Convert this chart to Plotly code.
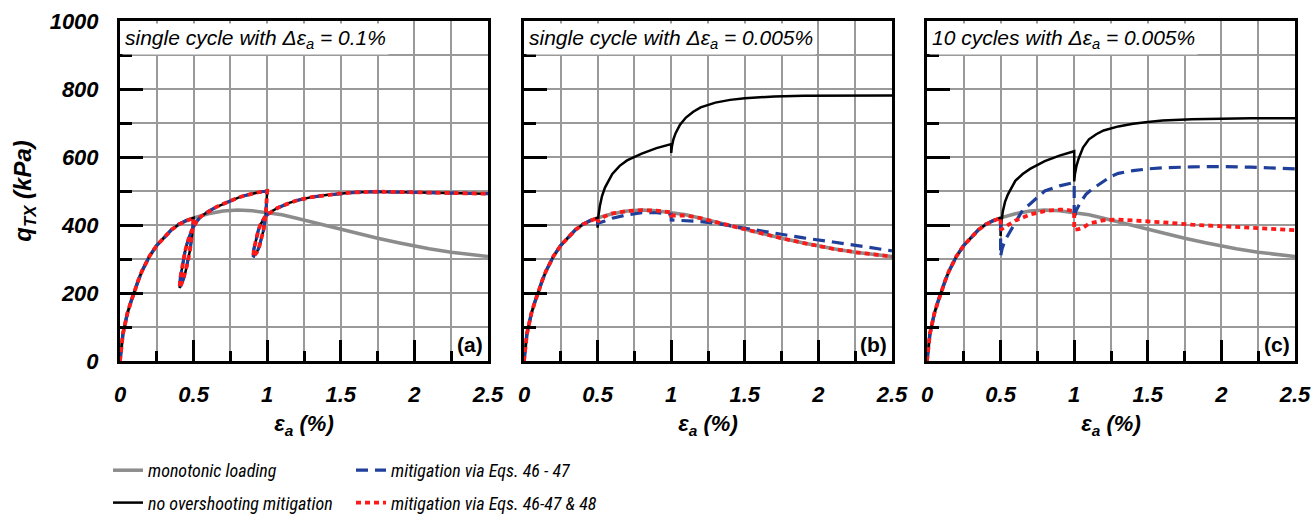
import plotly.graph_objects as go

# ---------------- data ----------------
# monotonic loading (grey) - same in all panels
eps_mono = [0, 0.01, 0.02, 0.035, 0.05, 0.075, 0.1, 0.125, 0.15, 0.2, 0.25, 0.3, 0.35, 0.4, 0.45, 0.5,
            0.6, 0.7, 0.8, 0.9, 1.0, 1.1, 1.2, 1.3, 1.4, 1.5, 1.6, 1.75, 1.9, 2.0, 2.1, 2.25, 2.4, 2.5]
q_mono = [0, 48, 80, 110, 140, 175, 208, 238, 265, 308, 340, 364, 386, 402, 413, 421,
          433, 441, 444, 442, 437, 430, 420, 409, 398, 388, 377, 361, 347, 338, 330, 320, 311, 307]

# panel (a): all three models overlap
eps_a_cyc = [0, 0.01, 0.02, 0.035, 0.05, 0.075, 0.1, 0.125, 0.15, 0.2, 0.25, 0.3, 0.35, 0.4, 0.45, 0.5,
             0.497, 0.49, 0.475, 0.46, 0.445, 0.43, 0.415, 0.405,
             0.41, 0.425, 0.44, 0.455, 0.47, 0.485, 0.5, 0.52, 0.55, 0.6, 0.65, 0.7, 0.75, 0.8, 0.85, 0.9, 0.95, 1.0,
             0.997, 0.99, 0.975, 0.96, 0.945, 0.93, 0.915, 0.905,
             0.91, 0.925, 0.94, 0.955, 0.97, 0.985, 1.0, 1.03, 1.07, 1.1, 1.15, 1.2, 1.3, 1.4, 1.5, 1.6, 1.75,
             1.9, 2.0, 2.25, 2.5]
q_a_cyc = [0, 48, 80, 110, 140, 175, 208, 238, 265, 308, 340, 364, 386, 402, 413, 421,
           400, 370, 325, 290, 262, 240, 224, 215,
           245, 285, 318, 345, 365, 382, 395, 410, 425, 440, 452, 462, 472, 480, 487, 493, 497, 500,
           470, 430, 385, 355, 335, 320, 310, 306,
           330, 360, 385, 402, 415, 424, 430, 440, 450, 456, 465, 472, 482, 488, 493, 496, 498,
           497, 496, 494, 492]

eps_pre = [0, 0.01, 0.02, 0.035, 0.05, 0.075, 0.1, 0.125, 0.15, 0.2, 0.25, 0.3, 0.35, 0.4, 0.45, 0.5]
q_pre = [0, 48, 80, 110, 140, 175, 208, 238, 265, 308, 340, 364, 386, 402, 413, 421]

# panel (b)
eps_b_black = eps_pre + [0.5, 0.505, 0.515, 0.53, 0.55, 0.6, 0.65, 0.7, 0.8, 0.9, 1.0, 1.0, 1.005, 1.015,
                         1.03, 1.06, 1.1, 1.15, 1.2, 1.3, 1.4, 1.5, 1.7, 1.9, 2.1, 2.3, 2.5]
q_b_black = q_pre + [392, 425, 455, 485, 510, 550, 574, 590, 610, 626, 638, 612, 632, 652,
                     670, 695, 716, 733, 746, 760, 768, 773, 778, 780, 781, 781, 781]
eps_b_blue = eps_pre + [0.5, 0.55, 0.6, 0.7, 0.8, 0.9, 1.0, 1.0, 1.05, 1.1, 1.2, 1.3, 1.5, 1.7, 1.9,
                        2.1, 2.3, 2.5]
q_b_blue = q_pre + [405, 412, 420, 430, 436, 436, 432, 415, 414, 413, 410, 405, 390, 376, 362,
                    350, 337, 324]
eps_b_red = eps_pre + [0.5, 0.55, 0.6, 0.7, 0.8, 0.9, 1.0, 1.0, 1.1, 1.2, 1.3, 1.4, 1.5, 1.6, 1.75,
                       1.9, 2.0, 2.1, 2.25, 2.4, 2.5]
q_b_red = q_pre + [410, 426, 434, 441, 444, 442, 437, 428, 428, 420, 409, 398, 388, 377, 361,
                   347, 338, 330, 320, 311, 307]

# panel (c)
eps_c_black = eps_pre + [0.5, 0.505, 0.515, 0.53, 0.55, 0.6, 0.65, 0.7, 0.8, 0.9, 1.0, 1.0, 1.005, 1.015,
                         1.03, 1.06, 1.1, 1.15, 1.2, 1.3, 1.4, 1.5, 1.6, 1.8, 2.0, 2.2, 2.5]
q_c_black = q_pre + [368, 405, 440, 468, 490, 530, 550, 565, 588, 604, 617, 528, 550, 573,
                     595, 628, 652, 667, 678, 690, 698, 703, 707, 711, 713, 714, 714]
eps_c_blue = eps_pre + [0.5, 0.51, 0.53, 0.55, 0.6, 0.65, 0.7, 0.8, 0.9, 1.0, 1.0, 1.01, 1.04, 1.08,
                        1.12, 1.2, 1.25, 1.3, 1.4, 1.5, 1.6, 1.8, 2.0, 2.2, 2.5]
q_c_blue = q_pre + [308, 330, 355, 370, 405, 444, 462, 500, 515, 525, 415, 440, 465, 490,
                    505, 527, 543, 552, 560, 565, 568, 571, 572, 570, 565]
eps_c_red = eps_pre + [0.5, 0.52, 0.55, 0.6, 0.7, 0.8, 0.9, 0.95, 1.0, 1.0, 1.03, 1.06, 1.1, 1.2, 1.3,
                       1.4, 1.6, 1.8, 2.0, 2.2, 2.5]
q_c_red = q_pre + [386, 392, 400, 413, 431, 441, 445, 445, 440, 386, 388, 392, 404, 414, 416,
                   414, 408, 401, 396, 391, 385]

panel_titles = ["single cycle with Δε<sub>a</sub> = 0.1%",
                "single cycle with Δε<sub>a</sub> = 0.005%",
                "10 cycles with Δε<sub>a</sub> = 0.005%"]
panel_tags = ["(a)", "(b)", "(c)"]
x_ticks = [0, 0.5, 1, 1.5, 2, 2.5]
x_ticktext = ["0", "0.5", "1", "1.5", "2", "2.5"]
y_ticks = [0, 200, 400, 600, 800, 1000]

names = ["monotonic loading", "no overshooting mitigation",
         "mitigation via Eqs. 46 - 47", "mitigation via Eqs. 46-47 & 48"]

panels = [
    dict(black=(eps_a_cyc, q_a_cyc), blue=(eps_a_cyc, q_a_cyc), red=(eps_a_cyc, q_a_cyc)),
    dict(black=(eps_b_black, q_b_black), blue=(eps_b_blue, q_b_blue), red=(eps_b_red, q_b_red)),
    dict(black=(eps_c_black, q_c_black), blue=(eps_c_blue, q_c_blue), red=(eps_c_red, q_c_red)),
]

# ---------------- styling ----------------
GREY = "#8c8c8c"
BLUE = "#1f3f9a"
RED = "#ff1a1a"
GRID = "#9a9a9a"
FONT = "Liberation Sans, Arial, sans-serif"
NARROW = "Liberation Sans Narrow, Arial Narrow, Roboto Condensed, DejaVu Sans Condensed, sans-serif"

W, H = 1312, 517
L, R, T, B = 120, 17, 21, 156
pw = W - L - R
doms = [(120, 488), (524, 892), (927, 1295)]
doms = [((a - L) / pw, (b - L) / pw) for a, b in doms]

fig = go.Figure()

for i, p in enumerate(panels):
    xa = "x" if i == 0 else f"x{i+1}"
    ya = "y" if i == 0 else f"y{i+1}"
    first = i == 0
    fig.add_trace(go.Scatter(x=eps_mono, y=q_mono, mode="lines", xaxis=xa, yaxis=ya,
                             line=dict(color=GREY, width=3.5), name=names[0],
                             showlegend=first, legend="legend", legendgroup="g0"))
    fig.add_trace(go.Scatter(x=p["black"][0], y=p["black"][1], mode="lines", xaxis=xa, yaxis=ya,
                             line=dict(color="black", width=2.5), name=names[1],
                             showlegend=first, legend="legend", legendgroup="g1"))
    fig.add_trace(go.Scatter(x=p["blue"][0], y=p["blue"][1], mode="lines", xaxis=xa, yaxis=ya,
                             line=dict(color=BLUE, width=3.2, dash="12px,7px"), name=names[2],
                             showlegend=first, legend="legend2", legendgroup="g2"))
    fig.add_trace(go.Scatter(x=p["red"][0], y=p["red"][1], mode="lines", xaxis=xa, yaxis=ya,
                             line=dict(color=RED, width=3.8, dash="5px,4px"), name=names[3],
                             showlegend=first, legend="legend2", legendgroup="g3"))

tickfont = dict(family=FONT, size=22, weight="bold", style="italic", color="black")
for i in range(3):
    sx = "" if i == 0 else str(i + 1)
    fig.layout["xaxis" + sx] = dict(
        domain=doms[i], range=[0, 2.5], anchor="y" + sx,
        tickvals=x_ticks, ticktext=x_ticktext, ticks="inside", ticklen=21, tickwidth=3,
        tickcolor="black", showgrid=True, gridcolor=GRID, gridwidth=1.5, zeroline=False,
        showline=True, linecolor="black", linewidth=3, mirror=True,
        tickfont=tickfont, ticklabelstandoff=12,
        minor=dict(tickvals=[0.25, 0.75, 1.25, 1.75, 2.25], ticks="inside", ticklen=10,
                   tickwidth=3, tickcolor="black", showgrid=True, gridcolor=GRID, gridwidth=1.5),
        title=dict(text="ε<sub>a</sub> (%)", standoff=10,
                   font=dict(family=FONT, size=22, weight="bold", style="italic", color="black")),
    )
    fig.layout["yaxis" + sx] = dict(
        domain=[0, 1], range=[0, 1000], anchor="x" + sx,
        tickvals=y_ticks, ticks="inside", ticklen=23, tickwidth=3, tickcolor="black",
        showgrid=True, gridcolor=GRID, gridwidth=1.5, zeroline=False,
        showline=True, linecolor="black", linewidth=3, mirror=True,
        showticklabels=(i == 0), tickfont=tickfont, ticklabelstandoff=14,
        minor=dict(tickvals=[100, 300, 500, 700, 900], ticks="inside", ticklen=12, tickwidth=3,
                   tickcolor="black", showgrid=True, gridcolor=GRID, gridwidth=1.5),
    )
    fig.add_annotation(xref=f"x{sx} domain", yref=f"y{sx} domain", x=0, y=1,
                       xanchor="left", yanchor="top", xshift=2, yshift=-2,
                       text=panel_titles[i], showarrow=False, bgcolor="white", borderpad=2,
                       font=dict(family=FONT, size=21, style="italic", color="black"))
    fig.add_annotation(xref=f"x{sx} domain", yref=f"y{sx} domain", x=1, y=0,
                       xanchor="right", yanchor="bottom", xshift=-2, yshift=2,
                       text=panel_tags[i], showarrow=False, bgcolor="white", borderpad=2,
                       font=dict(family=FONT, size=21, weight="bold", color="black"))

fig.layout.yaxis.title = dict(text="q<sub>TX</sub> (kPa)", standoff=12,
                              font=dict(family=FONT, size=24, weight="bold", style="italic",
                                        color="black"))

legfont = dict(family=NARROW, size=18, style="italic", color="black")
fig.update_layout(
    width=W, height=H,
    margin=dict(l=L, r=R, t=T, b=B, autoexpand=False),
    paper_bgcolor="white", plot_bgcolor="white",
    legend=dict(x=(108 - L) / pw, y=-(452 - 361) / 340, xanchor="left", yanchor="top",
                font=legfont, tracegroupgap=6, bgcolor="rgba(0,0,0,0)", itemwidth=30),
    legend2=dict(x=(351 - L) / pw, y=-(452 - 361) / 340, xanchor="left", yanchor="top",
                 font=legfont, tracegroupgap=6, bgcolor="rgba(0,0,0,0)", itemwidth=30),
)

fig.write_html("out.html")
